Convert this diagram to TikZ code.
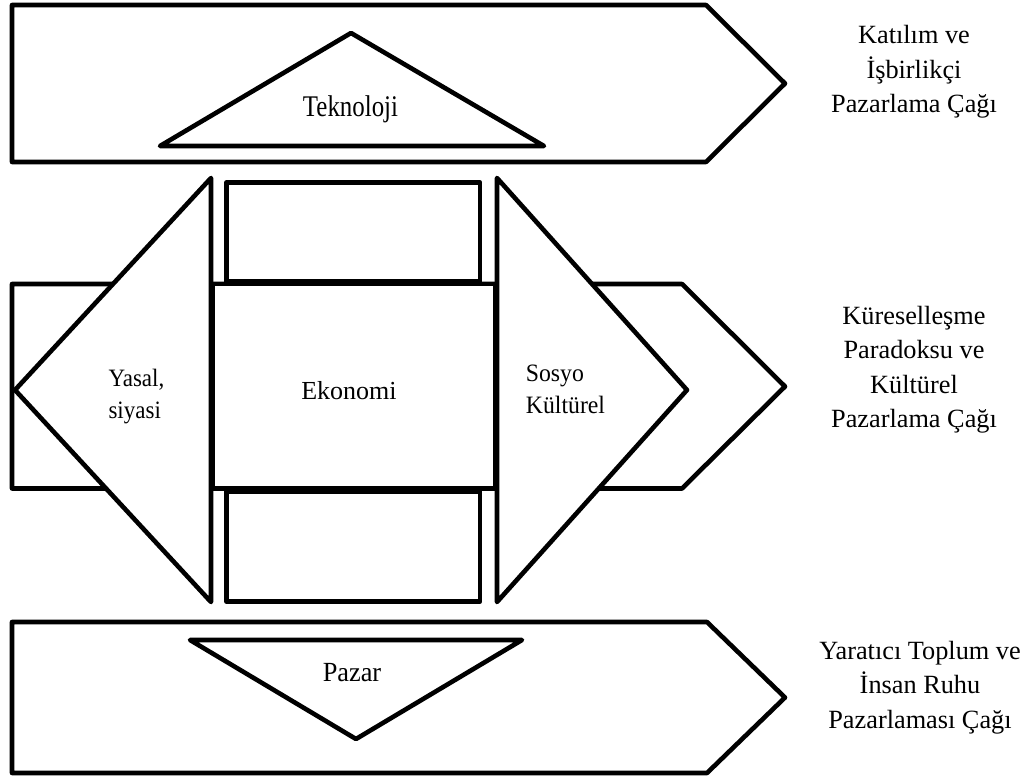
\documentclass[tikz,border=0pt]{standalone}
\usepackage{fontspec}
\setmainfont{Liberation Serif}
\begin{document}
\begin{tikzpicture}[x=1pt,y=-1pt,
  outline/.style={line width=4.6pt, line join=round, draw=black, fill=white},
  era/.style={anchor=base, inner sep=0pt, font=\fontsize{26.3}{34.5}\selectfont},
  lbl/.style={inner sep=0pt}]
\useasboundingbox (0,0) rectangle (1035,778);

% --- top band: technology ---
\draw[outline] (12,5) -- (706,5) -- (785,83.5) -- (706,162) -- (12,162) -- cycle;
\draw[outline] (160,146) -- (351,33) -- (544,146) -- cycle;
\node[lbl, anchor=base] (tek) at (350.5,117) {\scalebox{0.83}[1]{\fontsize{30}{34}\selectfont Teknoloji}};

% --- middle band: economy between legal and socio-cultural forces ---
\draw[outline] (12,284) -- (682,284) -- (785,386.5) -- (682,488.5) -- (12,488.5) -- cycle;
\draw[outline] (226.5,182.5) rectangle (480,281.5);
\draw[outline] (226.5,491.5) rectangle (480,601.5);
\draw[outline] (213,284) rectangle (495,488.5);
\draw[outline] (211,178) -- (211,602) -- (15,390) -- cycle;
\draw[outline] (497,178) -- (497,602) -- (687,390) -- cycle;

\node[lbl, anchor=base] (eko) at (349,399.3) {\fontsize{26}{30}\selectfont Ekonomi};
\node[lbl, anchor=base west] (yas) at (108.3,386.7)
  {\scalebox{0.92}[1]{\fontsize{25}{31.6}\selectfont\begin{tabular}[t]{@{}l@{}}Yasal,\\siyasi\end{tabular}}};
\node[lbl, anchor=base west] (sos) at (525.7,381.7)
  {\scalebox{0.95}[1]{\fontsize{25}{31.6}\selectfont\begin{tabular}[t]{@{}l@{}}Sosyo\\Kültürel\end{tabular}}};

% --- bottom band: market ---
\draw[outline] (12,622) -- (707,622) -- (785,697.5) -- (707,773) -- (12,773) -- cycle;
\draw[outline] (190,640) -- (522,640) -- (356,739) -- cycle;
\node[lbl, anchor=base] (paz) at (352,681.7) {\scalebox{0.95}[1]{\fontsize{27.7}{32}\selectfont Pazar}};

% --- era labels on the right ---
\node[era] (era1) at (914,44)
  {\begin{tabular}[t]{@{}c@{}}Katılım ve\\İşbirlikçi\\Pazarlama Çağı\end{tabular}};
\node[era] (era2) at (914,324)
  {\begin{tabular}[t]{@{}c@{}}Küreselleşme\\Paradoksu ve\\Kültürel\\Pazarlama Çağı\end{tabular}};
\node[era] (era3) at (920,659)
  {\begin{tabular}[t]{@{}c@{}}Yaratıcı Toplum ve\\İnsan Ruhu\\Pazarlaması Çağı\end{tabular}};
\end{tikzpicture}
\end{document}
